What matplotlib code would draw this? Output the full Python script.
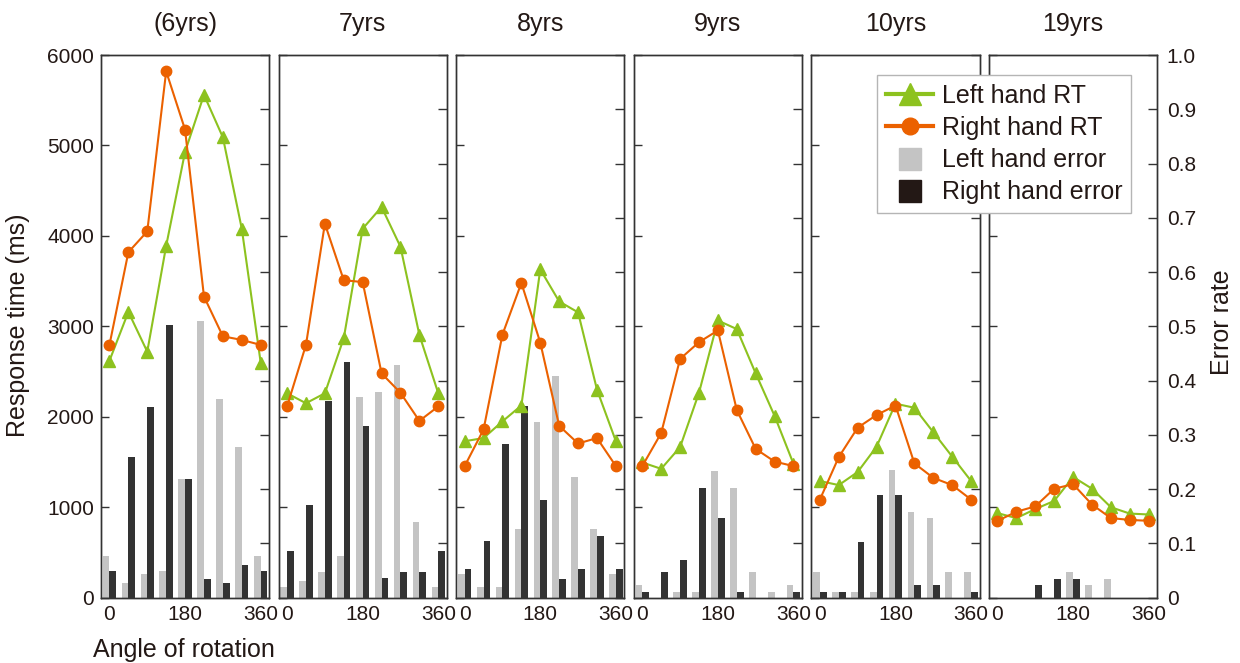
import numpy as np
import matplotlib
matplotlib.use("Agg")
from matplotlib import pyplot as plt
from matplotlib.lines import Line2D

plt.rcParams['font.family'] = ['Liberation Sans', 'DejaVu Sans']

# angles and panel titles
angles = [0, 45, 90, 135, 180, 225, 270, 315, 360]
ages = ["(6yrs)", "7yrs", "8yrs", "9yrs", "10yrs", "19yrs"]

# response times (ms), one row per age group
left_rt = [
    [2620, 3160, 2720, 3890, 4930, 5560, 5090, 4080, 2600],
    [2260, 2150, 2260, 2870, 4080, 4320, 3880, 2905, 2260],
    [1730, 1765, 1950, 2125, 3630, 3275, 3155, 2300, 1730],
    [1495, 1425, 1665, 2265, 3065, 2970, 2480, 2010, 1480],
    [1290, 1245, 1390, 1670, 2145, 2100, 1830, 1560, 1290],
    [935, 880, 980, 1070, 1335, 1205, 1000, 930, 920],
]
right_rt = [
    [2795, 3820, 4050, 5820, 5175, 3330, 2890, 2850, 2795],
    [2115, 2795, 4135, 3510, 3490, 2480, 2265, 1955, 2115],
    [1455, 1860, 2910, 3480, 2820, 1900, 1705, 1765, 1455],
    [1455, 1820, 2640, 2825, 2955, 2075, 1645, 1505, 1455],
    [1085, 1555, 1880, 2020, 2125, 1485, 1325, 1245, 1085],
    [850, 950, 1010, 1205, 1255, 1030, 880, 860, 850],
]
# error rates
left_err = [
    [0.076, 0.027, 0.043, 0.050, 0.219, 0.509, 0.366, 0.277, 0.076],
    [0.020, 0.030, 0.047, 0.076, 0.369, 0.379, 0.428, 0.140, 0.020],
    [0.043, 0.020, 0.020, 0.127, 0.324, 0.409, 0.222, 0.127, 0.043],
    [0.024, 0.000, 0.010, 0.010, 0.234, 0.203, 0.047, 0.010, 0.024],
    [0.047, 0.010, 0.010, 0.010, 0.236, 0.157, 0.147, 0.047, 0.047],
    [0.000, 0.000, 0.000, 0.000, 0.047, 0.024, 0.034, 0.000, 0.000],
]
right_err = [
    [0.050, 0.260, 0.352, 0.502, 0.219, 0.034, 0.027, 0.060, 0.050],
    [0.086, 0.170, 0.362, 0.435, 0.316, 0.037, 0.047, 0.047, 0.086],
    [0.053, 0.105, 0.283, 0.354, 0.180, 0.034, 0.053, 0.114, 0.053],
    [0.010, 0.047, 0.070, 0.203, 0.147, 0.010, 0.000, 0.000, 0.010],
    [0.010, 0.010, 0.102, 0.190, 0.190, 0.024, 0.024, 0.000, 0.010],
    [0.000, 0.000, 0.024, 0.034, 0.034, 0.000, 0.000, 0.000, 0.000],
]

rt_ticks = [0, 1000, 2000, 3000, 4000, 5000, 6000]
err_ticks = [0, 0.1, 0.2, 0.3, 0.4, 0.5, 0.6, 0.7, 0.8, 0.9, 1.0]
err_labels = ["0", "0.1", "0.2", "0.3", "0.4", "0.5", "0.6", "0.7", "0.8", "0.9", "1.0"]
x_ticks = [0, 180, 360]

GREEN = "#8DC21F"
ORANGE = "#EB6100"
LGRAY = "#C4C4C4"
DARK = "#333333"
TXT = "#231815"

fig = plt.figure(figsize=(12.4, 6.63), dpi=100)

left0, step, w = 0.0815, 0.14323, 0.1355
bottom, h = 0.0985, 0.8185
bw = 16

for i in range(len(ages)):
    ax = fig.add_axes([left0 + i * step, bottom, w, h])
    ax2 = ax.twinx()
    # bars behind the RT lines
    ax2.set_zorder(ax.get_zorder() - 1)
    ax.patch.set_visible(False)

    x = np.array(angles)
    ax2.bar(x - bw / 2, left_err[i], width=bw, color=LGRAY, linewidth=0)
    ax2.bar(x + bw / 2, right_err[i], width=bw, color=DARK, linewidth=0)
    ax2.set_ylim(0, 1.0)
    ax2.set_yticks(err_ticks)

    ax.plot(angles, left_rt[i], color=GREEN, lw=1.5, marker="^", ms=9, mec=GREEN, mfc=GREEN)
    ax.plot(angles, right_rt[i], color=ORANGE, lw=1.5, marker="o", ms=7.5, mec=ORANGE, mfc=ORANGE)
    ax.set_ylim(0, 6000)
    ax.set_xlim(-20, 380)
    ax.set_yticks(rt_ticks)
    ax.set_xticks(x_ticks)
    ax.set_xticklabels([str(t) for t in x_ticks])

    ax.tick_params(axis="x", length=0, pad=5, labelsize=15, colors=TXT)
    ax.tick_params(axis="y", direction="in", length=6, width=1, colors="#333333",
                   labelsize=15, labelcolor=TXT, pad=5)
    ax2.tick_params(axis="y", direction="in", length=6.5, width=1, colors="#333333",
                    labelsize=15, labelcolor=TXT, pad=7)
    if i == len(ages) - 1:
        ax2.set_yticklabels(err_labels)
    else:
        ax2.set_yticklabels([])
    if i != 0:
        ax.set_yticklabels([])

    for a in (ax, ax2):
        for sp in a.spines.values():
            sp.set_color("#333333")
            sp.set_linewidth(1.0)

    ax.set_title(ages[i], fontsize=18, color=TXT, pad=17)

fig.text(18 / 1240, 1 - 325 / 663, "Response time (ms)", rotation=90, fontsize=18,
         color=TXT, ha="center", va="center")
fig.text(1222 / 1240, 1 - 322 / 663, "Error rate", rotation=90, fontsize=18,
         color=TXT, ha="center", va="center")
fig.text(93 / 1240, 1 - 650 / 663, "Angle of rotation", fontsize=18, color=TXT,
         ha="left", va="center")

handles = [
    Line2D([], [], color=GREEN, lw=3, marker="^", ms=16, mec=GREEN, mfc=GREEN),
    Line2D([], [], color=ORANGE, lw=3, marker="o", ms=12, mec=ORANGE, mfc=ORANGE),
    Line2D([], [], ls="none", marker="s", ms=16, mec=LGRAY, mfc=LGRAY),
    Line2D([], [], ls="none", marker="s", ms=16, mec="#231815", mfc="#231815"),
]
labels = ["Left hand RT", "Right hand RT", "Left hand error", "Right hand error"]
leg = fig.legend(handles, labels, loc="upper left", bbox_to_anchor=(877 / 1240, 1 - 75 / 663),
                 borderaxespad=0, fontsize=18, frameon=True, fancybox=False, framealpha=1,
                 edgecolor="#B5B5B5", handlelength=1.9, handletextpad=0.35,
                 labelspacing=0.33, borderpad=0.35)
leg.get_frame().set_linewidth(1.0)
for t in leg.get_texts():
    t.set_color(TXT)

fig.savefig("out.png", dpi=100)
